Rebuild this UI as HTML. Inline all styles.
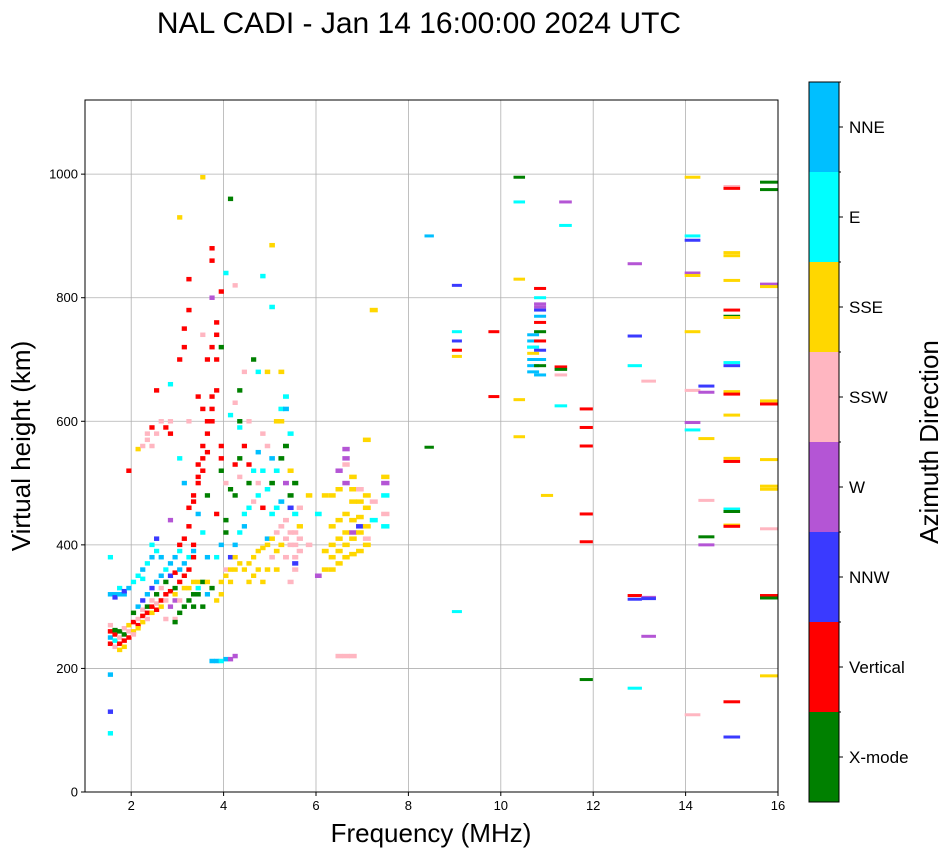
<!DOCTYPE html>
<html><head><meta charset="utf-8"><style>
body{margin:0;background:#fff;font-family:"Liberation Sans",sans-serif}
svg text{font-family:"Liberation Sans",sans-serif;fill:#000}
</style></head><body>
<svg id="chart" width="951" height="856">
<text x="419" y="33" font-size="30" text-anchor="middle">NAL CADI - Jan 14 16:00:00 2024 UTC</text>
<g id="grid"></g>
<g id="marks"></g>
<rect x="85" y="100" width="693" height="692" fill="none" stroke="#000" stroke-width="1"/>
<g id="ticks"></g>
<text x="431" y="842" font-size="26" text-anchor="middle">Frequency (MHz)</text>
<text transform="translate(30,446) rotate(-90)" font-size="26" text-anchor="middle">Virtual height (km)</text>
<g id="cbar"></g>
<text transform="translate(938,442) rotate(-90)" font-size="26" text-anchor="middle">Azimuth Direction</text>
</svg>
<script>
const categories=["X-mode","Vertical","NNW","W","SSW","SSE","E","NNE"];
const colors=["#008000","#ff0000","#3a3aff","#b455d5","#ffb6c1","#ffd700","#00ffff","#00bfff"];
const xTicks=[2,4,6,8,10,12,14,16];
const yTicks=[0,200,400,600,800,1000];
const pts=[
[1.55,240,1],[1.55,250,7],[1.55,260,1],[1.55,270,4],[1.55,320,7],[1.55,130,2],[1.55,95,6],[1.55,190,7],[1.55,380,6],
[1.65,235,4],[1.65,255,1],[1.65,262,0],[1.65,245,6],[1.65,320,7],[1.65,315,2],
[1.75,240,1],[1.75,260,0],[1.75,250,4],[1.75,230,5],[1.75,330,6],[1.75,320,7],
[1.85,245,1],[1.85,265,4],[1.85,255,0],[1.85,235,5],[1.85,320,7],[1.85,325,2],
[1.95,250,1],[1.95,270,5],[1.95,260,4],[1.95,330,7],[1.95,520,1],
[2.05,260,5],[2.05,275,1],[2.05,255,4],[2.05,290,0],[2.05,340,6],
[2.15,270,1],[2.15,280,4],[2.15,265,5],[2.15,300,7],[2.15,350,6],[2.15,555,5],
[2.25,285,1],[2.25,295,4],[2.25,275,5],[2.25,310,2],[2.25,360,7],[2.25,345,6],[2.25,560,4],
[2.35,290,1],[2.35,300,0],[2.35,280,4],[2.35,320,7],[2.35,370,6],[2.35,580,4],[2.35,570,4],
[2.45,300,1],[2.45,310,4],[2.45,290,5],[2.45,330,2],[2.45,380,7],[2.45,400,6],[2.45,560,4],[2.45,590,1],
[2.55,295,1],[2.55,320,0],[2.55,305,4],[2.55,340,7],[2.55,390,6],[2.55,580,4],[2.55,650,1],[2.55,410,2],
[2.65,310,1],[2.65,330,4],[2.65,300,5],[2.65,350,7],[2.65,600,4],[2.65,380,7],
[2.75,320,1],[2.75,340,0],[2.75,310,4],[2.75,360,6],[2.75,590,1],[2.75,280,4],
[2.85,325,1],[2.85,350,2],[2.85,300,3],[2.85,370,7],[2.85,600,4],[2.85,580,1],[2.85,440,3],[2.85,660,6],
[2.95,330,0],[2.95,355,1],[2.95,280,4],[2.95,310,3],[2.95,380,7],[2.95,320,5],[2.95,275,0],
[3.05,340,1],[3.05,360,7],[3.05,290,0],[3.05,310,4],[3.05,390,6],[3.05,400,1],[3.05,540,6],[3.05,700,1],[3.05,930,5],
[3.15,350,1],[3.15,370,7],[3.15,300,0],[3.15,330,5],[3.15,410,1],[3.15,500,7],[3.15,750,1],[3.15,720,1],
[3.25,360,1],[3.25,380,6],[3.25,310,0],[3.25,330,5],[3.25,430,1],[3.25,460,1],[3.25,780,1],[3.25,830,1],[3.25,600,4],
[3.35,380,1],[3.35,400,1],[3.35,320,0],[3.35,340,5],[3.35,470,1],[3.35,480,1],[3.35,300,0],[3.35,390,7],
[3.45,500,1],[3.45,510,1],[3.45,320,0],[3.45,340,5],[3.45,330,6],[3.45,530,1],[3.45,640,1],[3.45,450,7],
[3.55,520,1],[3.55,540,1],[3.55,300,0],[3.55,340,0],[3.55,560,1],[3.55,740,4],[3.55,620,1],[3.55,995,5],[3.55,420,6],
[3.65,550,1],[3.65,580,1],[3.65,320,7],[3.65,340,5],[3.65,600,1],[3.65,700,1],[3.65,480,0],[3.65,380,7],
[3.75,600,1],[3.75,620,1],[3.75,640,1],[3.75,860,1],[3.75,880,1],[3.75,330,0],[3.75,212,7],[3.75,800,3],[3.75,720,1],
[3.85,650,1],[3.85,700,1],[3.85,740,1],[3.85,760,1],[3.85,212,7],[3.85,310,5],[3.85,450,1],[3.85,380,6],
[3.95,560,1],[3.95,540,1],[3.95,520,0],[3.95,720,0],[3.95,212,6],[3.95,320,5],[3.95,340,5],[3.95,400,7],[3.95,810,1],
[4.05,440,0],[4.05,420,0],[4.05,350,5],[4.05,215,7],[4.05,840,6],[4.05,500,4],[4.05,360,4],
[4.15,490,0],[4.15,960,0],[4.15,340,5],[4.15,215,3],[4.15,610,6],[4.15,360,5],[4.15,380,2],
[4.25,530,1],[4.25,480,0],[4.25,360,5],[4.25,220,3],[4.25,820,4],[4.25,400,7],[4.25,630,4],[4.25,380,5],
[4.35,540,0],[4.35,650,0],[4.35,370,5],[4.35,420,6],[4.35,590,6],[4.35,510,4],[4.35,600,0],
[4.45,560,1],[4.45,360,5],[4.45,430,7],[4.45,680,4],[4.45,450,6],
[4.55,500,0],[4.55,370,5],[4.55,460,6],[4.55,340,5],[4.55,600,4],[4.55,530,1],
[4.65,380,5],[4.65,470,4],[4.65,520,6],[4.65,700,0],[4.65,350,5],
[4.75,390,5],[4.75,480,6],[4.75,360,5],[4.75,680,6],[4.75,550,7],[4.75,500,4],
[4.85,395,5],[4.85,460,1],[4.85,520,6],[4.85,340,5],[4.85,835,6],[4.85,580,4],
[4.95,400,5],[4.95,490,6],[4.95,560,4],[4.95,360,5],[4.95,410,7],[4.95,680,5],
[5.05,410,5],[5.05,500,0],[5.05,540,7],[5.05,380,4],[5.05,785,6],[5.05,885,5],[5.05,450,6],
[5.15,420,4],[5.15,520,6],[5.15,600,5],[5.15,390,5],[5.15,460,6],[5.15,360,5],
[5.25,430,4],[5.25,540,0],[5.25,620,6],[5.25,400,5],[5.25,470,7],[5.25,600,5],[5.25,680,5],
[5.35,440,4],[5.35,560,0],[5.35,640,6],[5.35,410,4],[5.35,500,3],[5.35,380,4],[5.35,620,7],
[5.45,420,4],[5.45,520,5],[5.45,580,6],[5.45,460,2],[5.45,400,4],[5.45,340,4],[5.45,480,0],
[5.55,400,4],[5.55,450,6],[5.55,500,0],[5.55,370,2],[5.55,420,4],[5.55,360,4],[5.55,380,4],
[5.65,410,4],[5.65,430,5],[5.65,460,4],[5.65,390,4],
[5.85,480,5],[5.85,400,4],[6.05,350,3],[6.05,450,6],
[6.2,360,5],[6.2,390,5],[6.2,480,5],
[6.35,360,5],[6.35,380,5],[6.35,400,5],[6.35,430,5],[6.35,480,5],
[6.5,370,5],[6.5,390,5],[6.5,410,5],[6.5,440,5],[6.5,490,5],[6.5,520,3],[6.5,220,4],
[6.65,380,5],[6.65,400,5],[6.65,420,5],[6.65,450,5],[6.65,500,3],[6.65,530,4],[6.65,540,3],[6.65,555,3],[6.65,220,4],
[6.8,385,5],[6.8,410,5],[6.8,440,5],[6.8,470,5],[6.8,490,5],[6.8,510,5],[6.8,420,3],[6.8,220,4],
[6.95,390,5],[6.95,420,5],[6.95,445,5],[6.95,470,5],[6.95,490,4],[6.95,430,2],
[7.1,400,5],[7.1,430,5],[7.1,460,5],[7.1,480,5],[7.1,570,5],[7.1,410,4],
[7.25,440,6],[7.25,470,4],[7.25,780,5],
[7.5,430,6],[7.5,450,4],[7.5,480,6],[7.5,500,3],[7.5,510,5],
[8.45,900,7],[8.45,558,0],
[9.05,820,2],[9.05,745,6],[9.05,730,2],[9.05,715,1],[9.05,705,5],[9.05,292,6],
[9.85,745,1],[9.85,640,1],
[10.4,995,0],[10.4,955,6],[10.4,830,5],[10.4,635,5],[10.4,575,5],
[10.7,740,7],[10.7,730,7],[10.7,720,7],[10.7,700,7],[10.7,690,7],[10.7,680,7],[10.7,720,6],[10.7,710,5],
[10.85,815,1],[10.85,800,6],[10.85,785,3],[10.85,770,7],[10.85,760,1],[10.85,745,0],[10.85,730,1],[10.85,715,2],[10.85,700,7],[10.85,690,0],[10.85,675,7],[10.85,790,3],[10.85,780,2],
[11.0,480,5],
[11.3,688,1],[11.3,684,0],[11.3,675,4],[11.3,625,6],[11.4,955,3],[11.4,917,6],
[11.85,620,1],[11.85,590,1],[11.85,560,1],[11.85,450,1],[11.85,405,1],[11.85,182,0],
[12.9,855,3],[12.9,738,2],[12.9,690,6],[12.9,168,6],[12.9,318,1],[12.9,312,2],
[13.2,315,3],[13.2,252,3],[13.2,665,4],[13.2,313,2],
[14.15,995,5],[14.15,900,6],[14.15,893,2],[14.15,840,3],[14.15,836,5],[14.15,745,5],[14.15,650,4],[14.15,598,3],[14.15,586,6],[14.15,125,4],
[14.45,657,2],[14.45,647,3],[14.45,572,5],[14.45,472,4],[14.45,413,0],[14.45,400,3],
[15.0,980,4],[15.0,977,1],[15.0,873,5],[15.0,868,5],[15.0,828,5],[15.0,780,1],[15.0,770,0],[15.0,768,5],[15.0,695,6],[15.0,690,2],[15.0,648,5],[15.0,644,1],[15.0,610,5],[15.0,540,5],[15.0,535,1],[15.0,458,6],[15.0,454,0],[15.0,432,5],[15.0,430,1],[15.0,146,1],[15.0,89,2],
[15.8,987,0],[15.8,975,0],[15.8,822,3],[15.8,818,5],[15.8,633,5],[15.8,628,1],[15.8,538,5],[15.8,495,5],[15.8,490,5],[15.8,426,4],[15.8,318,1],[15.8,314,0],[15.8,188,5]
];
const NS="http://www.w3.org/2000/svg";
const X0=85,X1=778,Y0=792,Y1=100,FMIN=1,FMAX=16,HMIN=0,HMAX=1120;
function X(f){return X0+(f-FMIN)/(FMAX-FMIN)*(X1-X0);}
function Y(h){return Y0-(h-HMIN)/(HMAX-HMIN)*(Y0-Y1);}
function mk(t,a,p){const e=document.createElementNS(NS,t);for(const k in a)e.setAttribute(k,a[k]);p.appendChild(e);return e;}
const grid=document.getElementById('grid'),ticks=document.getElementById('ticks'),marks=document.getElementById('marks'),cbar=document.getElementById('cbar');
xTicks.forEach(v=>{const x=X(v);
 const g=mk('line',{x1:x,x2:x,y1:Y1,y2:Y0,stroke:'#b0b0b0','stroke-width':0.8},grid);
 
 
 mk('line',{x1:x,x2:x,y1:Y0,y2:Y0+4,stroke:'#000'},ticks);
 const t=mk('text',{x:x,y:Y0+18,'font-size':13,'text-anchor':'middle'},ticks);t.textContent=v;
 
 });
yTicks.forEach(v=>{const y=Y(v);
 const g=mk('line',{x1:X0,x2:X1,y1:y,y2:y,stroke:'#b0b0b0','stroke-width':0.8},grid);
 
 
 mk('line',{x1:X0-4,x2:X0,y1:y,y2:y,stroke:'#000'},ticks);
 const t=mk('text',{x:X0-7,y:y+4.5,'font-size':13,'text-anchor':'end'},ticks);t.textContent=v;
 
 });
pts.forEach(p=>{const f=p[0],h=p[1],c=p[2];const w=f*0.024;
 const cx=X(f);let half=Math.max(2.6,(X(f+w/2)-X(f-w/2))/2);
 let x0=cx-half,x1=Math.min(cx+half,X1);
 const hh=f>8?3:4.5;
 const r=mk('rect',{x:x0,y:Y(h)-hh/2,width:x1-x0,height:hh,fill:colors[c]},marks);
 
 });
const CB0=82,CB1=802,CX=809,CW=30,seg=(CB1-CB0)/categories.length;
categories.forEach((n,i)=>{const y=CB1-(i+1)*seg;
 const r=mk('rect',{x:CX,y:y,width:CW,height:seg,fill:colors[i]},cbar);
 
 
 mk('line',{x1:CX+CW,x2:CX+CW+4,y1:y+seg/2,y2:y+seg/2,stroke:'#000'},cbar);
 mk('line',{x1:CX+CW,x2:CX+CW+2,y1:y,y2:y,stroke:'#000'},cbar);
 const t=mk('text',{x:CX+CW+10,y:y+seg/2+6,'font-size':17},cbar);t.textContent=n;
 
 });
mk('rect',{x:CX,y:CB0,width:CW,height:CB1-CB0,fill:'none',stroke:'#000','stroke-width':1},cbar);
</script>
</body></html>
